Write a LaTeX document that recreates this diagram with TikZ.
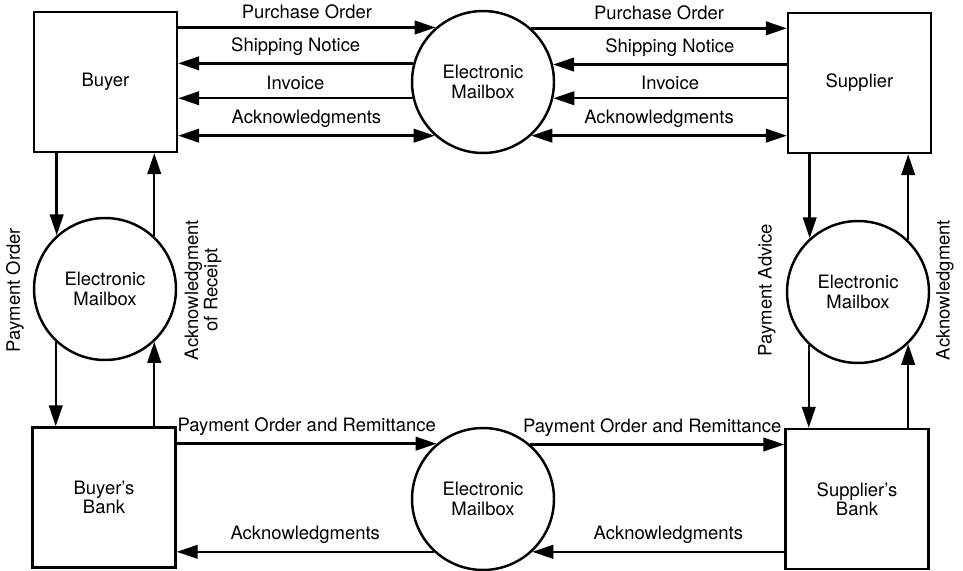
\documentclass[tikz,border=0pt]{standalone}
\usepackage{fontspec}
\setmainfont{TeX Gyre Heros}
\usetikzlibrary{arrows.meta}

\begin{document}
\begin{tikzpicture}[x=0.02cm, y=-0.02cm, line width=1.4pt,
  font=\fontsize{10.5}{11}\selectfont,
  party/.style={draw, minimum width=2.86cm, minimum height=2.8cm, align=center},
  mailbox/.style={draw, circle, minimum size=2.84cm, inner sep=0pt, align=center},
  flow/.style={-{Triangle[length=0.42cm,width=0.27cm]}},
  twoway/.style={{Triangle[length=0.42cm,width=0.27cm]}-{Triangle[length=0.42cm,width=0.27cm]}},
  lbl/.style={above, inner sep=4pt}]
\useasboundingbox (0,0) rectangle (963,571);

\node [party] (buyer) at (105.5,82) {Buyer};
\node [party] (supplier) at (859.5,83) {Supplier};
\node [party] (bbank) at (104,497.5) {Buyer’s\\Bank};
\node [party] (sbank) at (857,499) {Supplier’s\\Bank};

\node [mailbox] (mbtop) at (483,82) {Electronic\\Mailbox};
\node [mailbox] (mbleft) at (105,289) {Electronic\\Mailbox};
\node [mailbox] (mbright) at (858,292) {Electronic\\Mailbox};
\node [mailbox] (mbbot) at (483,499) {Electronic\\Mailbox};

% buyer - mailbox - supplier
\draw [flow] (mbtop.131.7 -| buyer.east) -- node[lbl] (lpo1) {Purchase Order} (mbtop.131.7);
\draw [flow] (mbtop.165.3) -- node[lbl] (lsn1) {Shipping Notice} (mbtop.165.3 -| buyer.east);
\draw [flow] (mbtop.193.9) -- node[lbl] (linv1) {Invoice} (mbtop.193.9 -| buyer.east);
\draw [twoway] (mbtop.228.3 -| buyer.east) -- node[lbl] (lack1) {Acknowledgments} (mbtop.228.3);

\draw [flow] (mbtop.48.3) -- node[lbl] (lpo2) {Purchase Order} (mbtop.48.3 -| supplier.west);
\draw [flow] (mbtop.14.7 -| supplier.west) -- node[lbl] (lsn2) {Shipping Notice} (mbtop.14.7);
\draw [flow] (mbtop.-13.9 -| supplier.west) -- node[lbl] (linv2) {Invoice} (mbtop.-13.9);
\draw [twoway] (mbtop.-48.3) -- node[lbl] (lack2) {Acknowledgments} (mbtop.-48.3 -| supplier.west);

% buyer - mailbox - buyer's bank
\draw [flow] (buyer.south -| mbleft.132.5) -- (mbleft.132.5);
\draw [flow] (mbleft.227.5) -- (mbleft.227.5 |- bbank.north);
\draw [flow] (bbank.north -| mbleft.-47.5) -- (mbleft.-47.5);
\draw [flow] (mbleft.47.5) -- (mbleft.47.5 |- buyer.south);
\node [rotate=90] (lpayord) at (15,290) {Payment Order};
\node [rotate=90, align=center] (lackrec) at (203,290) {Acknowledgment\\of Receipt};

% supplier - mailbox - supplier's bank
\draw [flow] (supplier.south -| mbright.132.5) -- (mbright.132.5);
\draw [flow] (mbright.227.5) -- (mbright.227.5 |- sbank.north);
\draw [flow] (sbank.north -| mbright.-46.4) -- (mbright.-46.4);
\draw [flow] (mbright.46.4) -- (mbright.46.4 |- supplier.south);
\node [rotate=90] (lpayadv) at (767,290) {Payment Advice};
\node [rotate=90] (lack3) at (945,290) {Acknowledgment};

% banks
\draw [flow] (mbbot.130.5 -| bbank.east) -- node[lbl] (lrem1) {Payment Order and Remittance} (mbbot.130.5);
\draw [flow] (mbbot.49.5) -- node[lbl, pos=0.48] (lrem2) {Payment Order and Remittance} (mbbot.49.5 -| sbank.west);
\draw [flow] (mbbot.227) -- node[lbl] (lack4) {Acknowledgments} (mbbot.227 -| bbank.east);
\draw [flow] (mbbot.-47 -| sbank.west) -- node[lbl, pos=0.46] (lack5) {Acknowledgments} (mbbot.-47);
\end{tikzpicture}
\end{document}
